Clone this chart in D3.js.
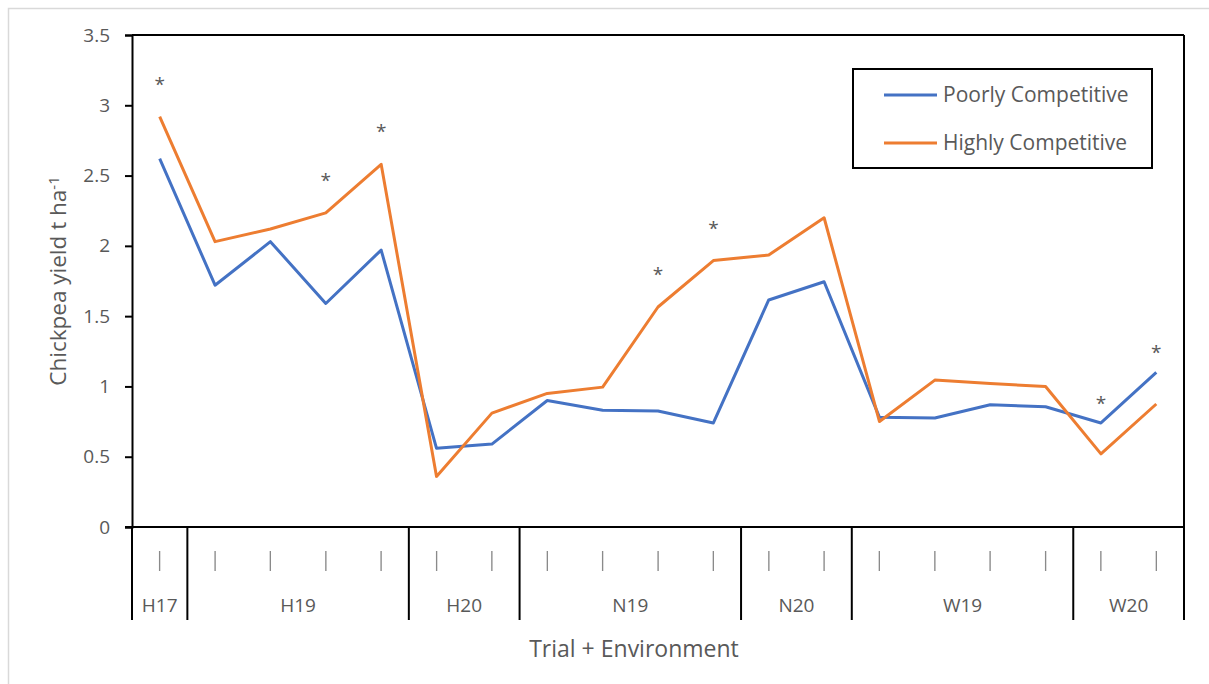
<!DOCTYPE html>
<html>
<head>
<meta charset="utf-8">
<script src="https://cdn.jsdelivr.net/npm/d3@7"></script>
<style>
  html, body { margin: 0; padding: 0; background: #fff; }
  svg { display: block; font-family: "Open Sans", Lato, sans-serif; }
  .site-labels { filter: grayscale(1); }
</style>
</head>
<body>
<svg id="chart" width="1209" height="684"></svg>
<script>
// Trial + environment groups and how many sites each contains
const groups = ["H17", "H19", "H20", "N19", "N20", "W19", "W20"];
const groupSizes = [1, 4, 2, 4, 2, 4, 2];

// Chickpea yield (t/ha) for each site, in group order
const poorlyCompetitive = [2.62, 1.72, 2.03, 1.59, 1.97, 0.56, 0.59, 0.90, 0.83, 0.825, 0.74, 1.615, 1.745, 0.78, 0.775, 0.87, 0.855, 0.74, 1.10];
const highlyCompetitive = [2.92, 2.03, 2.12, 2.235, 2.58, 0.36, 0.81, 0.95, 0.995, 1.565, 1.895, 1.935, 2.20, 0.75, 1.045, 1.02, 1.00, 0.52, 0.875];

// Sites with a significant difference between the two cultivar types
const significant = [0, 3, 4, 9, 10, 17, 18];

const yTicks = [0, 0.5, 1, 1.5, 2, 2.5, 3, 3.5];
const siteLabel = "|";
const seriesNames = ["Poorly Competitive", "Highly Competitive"];
const colors = ["#4472C4", "#ED7D31"];
const textColor = "#595959";

const svg = d3.select("#chart");

// outer chart-area border (runs past the right and bottom edges)
svg.append("rect")
  .attr("x", 8.5).attr("y", 8.5)
  .attr("width", 1220).attr("height", 700)
  .attr("fill", "#fff").attr("stroke", "#d9d9d9").attr("stroke-width", 1.5);

const plotLeft = 132, plotRight = 1184, plotTop = 35, plotBottom = 527;
const nSites = poorlyCompetitive.length;
const siteIdx = d3.range(nSites);

const x = d3.scaleBand().domain(siteIdx).range([plotLeft, plotRight]).paddingInner(0).paddingOuter(0);
const y = d3.scaleLinear().domain([0, 3.5]).range([plotBottom, plotTop]);

// y axis
const yAxis = d3.axisLeft(y).tickValues(yTicks).tickSize(7).tickPadding(15)
  .tickFormat(d => d3.format("~g")(d));
const gy = svg.append("g").attr("transform", `translate(${plotLeft},0)`).call(yAxis);
gy.select(".domain").attr("stroke", "#000").attr("stroke-width", 2);
gy.selectAll(".tick line").attr("stroke", "#000").attr("stroke-width", 2);
gy.selectAll(".tick text").attr("fill", textColor).style("font-size", "19px")
  .style("font-family", "'Open Sans', sans-serif");

// plot frame: top and right edges
svg.append("line").attr("x1", plotLeft).attr("x2", plotRight).attr("y1", plotTop).attr("y2", plotTop)
  .attr("stroke", "#000").attr("stroke-width", 2);
svg.append("line").attr("x1", plotRight).attr("x2", plotRight).attr("y1", plotTop).attr("y2", 620)
  .attr("stroke", "#000").attr("stroke-width", 2);

// x axis baseline
svg.append("line").attr("x1", plotLeft - 7).attr("x2", plotRight).attr("y1", plotBottom).attr("y2", plotBottom)
  .attr("stroke", "#000").attr("stroke-width", 2);

// per-site category labels
svg.append("g").attr("class", "site-labels")
  .selectAll("text").data(siteIdx).join("text")
  .attr("x", d => x(d) + x.bandwidth() / 2)
  .attr("y", 566)
  .attr("text-anchor", "middle")
  .attr("fill", "#8a8a8a")
  .style("font-size", "19.5px")
  .text(siteLabel);

// group dividers and group labels
const bounds = [0];
groupSizes.forEach(s => bounds.push(bounds[bounds.length - 1] + s));
const boundX = i => (i < nSites ? x(i) : plotRight);
svg.append("g").selectAll("line").data(bounds).join("line")
  .attr("x1", d => boundX(d)).attr("x2", d => boundX(d))
  .attr("y1", plotBottom).attr("y2", 620)
  .attr("stroke", "#000").attr("stroke-width", 2);
svg.append("g").selectAll("text").data(groups).join("text")
  .attr("x", (g, i) => (boundX(bounds[i]) + boundX(bounds[i + 1])) / 2)
  .attr("y", 612)
  .attr("text-anchor", "middle")
  .attr("fill", textColor)
  .style("font-size", "19px")
  .text(d => d);

// series lines
const line = d3.line().x((d, i) => x(i) + x.bandwidth() / 2).y(d => y(d));
[poorlyCompetitive, highlyCompetitive].forEach((s, k) => {
  svg.append("path").datum(s)
    .attr("d", line)
    .attr("fill", "none")
    .attr("stroke", colors[k])
    .attr("stroke-width", 3)
    .attr("stroke-linejoin", "round");
});

// significance markers above the higher of the two values
svg.append("g").selectAll("text").data(significant).join("text")
  .attr("x", i => x(i) + x.bandwidth() / 2)
  .attr("y", i => {
    const hi = Math.max(poorlyCompetitive[i], highlyCompetitive[i]);
    const gap = poorlyCompetitive[i] > highlyCompetitive[i] ? 24 : 37;
    return y(hi) - gap + 11;
  })
  .attr("text-anchor", "middle")
  .attr("fill", textColor)
  .style("font-size", "19px")
  .text("*");

// axis titles
svg.append("text")
  .attr("x", 634).attr("y", 657)
  .attr("text-anchor", "middle").attr("fill", textColor)
  .style("font-size", "23px")
  .text("Trial + Environment");

const yt = svg.append("text")
  .attr("transform", `translate(66,${(plotTop + plotBottom) / 2}) rotate(-90)`)
  .attr("text-anchor", "middle").attr("fill", textColor)
  .style("font-size", "22.5px");
yt.append("tspan").text("Chickpea yield t ha");
yt.append("tspan").attr("dy", "-0.5em").style("font-size", "15px").text("-1");

// legend
const lg = svg.append("g");
lg.append("rect").attr("x", 853).attr("y", 69).attr("width", 299).attr("height", 99)
  .attr("fill", "#fff").attr("stroke", "#000").attr("stroke-width", 2);
seriesNames.forEach((name, k) => {
  const ly = 95 + k * 48;
  lg.append("line").attr("x1", 884).attr("x2", 937).attr("y1", ly).attr("y2", ly)
    .attr("stroke", colors[k]).attr("stroke-width", 3);
  lg.append("text").attr("x", 943).attr("y", ly + 7)
    .attr("fill", textColor).style("font-size", "21px").text(name);
});
</script>
</body>
</html>
